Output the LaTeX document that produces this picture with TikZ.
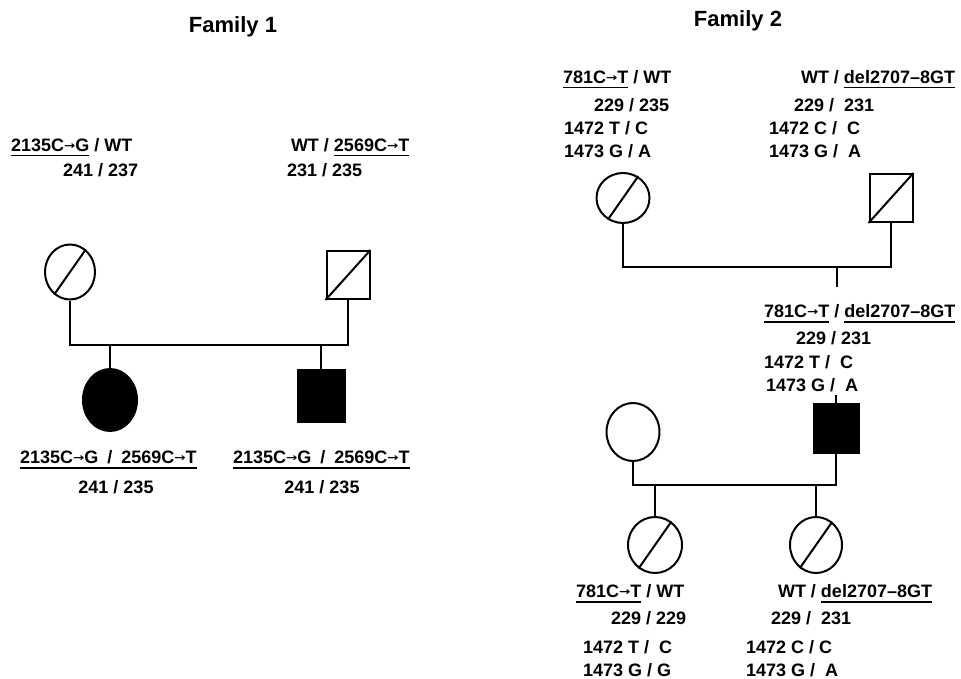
\documentclass[tikz,border=0pt]{standalone}
\usepackage{fontspec}
\setmainfont{Liberation Sans}
\newfontfamily\djv{DejaVu Sans}
\usepackage{graphicx}
\usetikzlibrary{shapes.geometric}
\newcommand\ar{\raisebox{2pt}{\scalebox{0.75}[0.6]{\djv\bfseries →}}}
\newsavebox\ulbox
\newcommand\ul[1]{\sbox\ulbox{#1}\rlap{\rule[-5pt]{\wd\ulbox}{1.3pt}}\usebox\ulbox}
\begin{document}
\begin{tikzpicture}[x=1pt,y=-1pt,line width=2pt,
  lab/.style={font=\fontsize{18}{18}\selectfont\bfseries, inner sep=0pt, anchor=base west},
  ttl/.style={font=\fontsize{22}{22}\selectfont\bfseries, inner sep=0pt, anchor=base},
  fem/.style={draw, ellipse, inner sep=0pt, minimum width=#1},
  mal/.style={draw, rectangle, inner sep=0pt},
  aff/.style={fill=black}]
\useasboundingbox (0,0) rectangle (961,679);
% titles
\node[ttl] (t1) at (233,33) {Family 1};
\node[ttl] (t2) at (738,27) {Family 2};
% ---------- Family 1 ----------
\node[lab] (l1a) at (10,151.5) {\ul{2135C\ar G} / WT};
\node[lab] (l1b) at (62,176.5) {241 / 237};
\node[lab] (l1c) at (290,151.5) {WT / \ul{2569C\ar T}};
\node[lab] (l1d) at (286,176.5) {231 / 235};
\node[fem=50pt, minimum height=55pt] (m1) at (70,272) {};
\draw (m1.235) -- (m1.55);
\node[mal, minimum width=43pt, minimum height=48pt] (f1) at (348,275) {};
\draw (f1.south west) -- (f1.north east);
\coordinate (j1) at (0,345);
\draw (m1.south) |- (f1.south |- j1) -- (f1.south);
\node[fem=54pt, minimum height=62pt, aff] (c1) at (110,400) {};
\node[mal, aff, minimum width=47pt, minimum height=52pt] (c2) at (321,396) {};
\draw (c1.north) -- (c1.north |- j1);
\draw (c2.north) -- (c2.north |- j1);
\node[lab] (l1e) at (19,463.5) {\ul{2135C\ar G\enspace/\enspace2569C\ar T}};
\node[lab, anchor=base] (l1f) at (116,493.5) {241 / 235};
\node[lab] (l1g) at (232,463.5) {\ul{2135C\ar G\enspace/\enspace2569C\ar T}};
\node[lab, anchor=base] (l1h) at (322,493.5) {241 / 235};
% ---------- Family 2 ----------
\node[lab] (a1) at (562,83.5) {\ul{781C\ar T} / WT};
\node[lab] (a2) at (593,111.5) {229 / 235};
\node[lab] (a3) at (563,134.5) {1472 T / C};
\node[lab] (a4) at (563,157.5) {1473 G / A};
\node[lab] (b1) at (800,83.5) {WT / \ul{del2707–8GT}};
\node[lab] (b2) at (793,111.5) {229 /\ \ 231};
\node[lab] (b3) at (768,134.5) {1472 C /\ \ C};
\node[lab] (b4) at (768,157.5) {1473 G /\ \ A};
\node[fem=53pt, minimum height=50pt] (m2) at (623,198) {};
\draw (m2.235) -- (m2.55);
\node[mal, minimum width=43pt, minimum height=48pt] (f2) at (891,198) {};
\draw (f2.south west) -- (f2.north east);
\coordinate (j2) at (0,267);
\draw (m2.south) |- (f2.south |- j2) -- (f2.south);
\coordinate (d2) at (837,287);
\draw (d2) -- (d2 |- j2);
\node[lab] (p1) at (763,317.5) {\ul{781C\ar T} / \ul{del2707–8GT}};
\node[lab] (p2) at (795,344.5) {229 / 231};
\node[lab] (p3) at (763,368.5) {1472 T /\ \ C};
\node[lab] (p4) at (765,391.5) {1473 G /\ \ A};
\node[fem=53pt, minimum height=58pt] (s3) at (633,432) {};
\node[mal, aff, minimum width=45pt, minimum height=49pt] (s2) at (836,428) {};
\coordinate (tk) at (836,395);
\draw (tk) -- (s2.north);
\coordinate (j3) at (0,485);
\draw (s3.south) |- (s2.south |- j3) -- (s2.south);
\node[fem=54pt, minimum height=56pt] (g1) at (655,545) {};
\draw (g1.235) -- (g1.55);
\node[fem=52pt, minimum height=56pt] (g2) at (816,545) {};
\draw (g2.235) -- (g2.55);
\draw (g1.north) -- (g1.north |- j3);
\draw (g2.north) -- (g2.north |- j3);
\node[lab] (q1) at (575,597.5) {\ul{781C\ar T} / WT};
\node[lab] (q2) at (610,624.5) {229 / 229};
\node[lab] (q3) at (582,653.5) {1472 T /\ \ C};
\node[lab] (q4) at (582,676) {1473 G / G};
\node[lab] (r1) at (777,597.5) {WT / \ul{del2707–8GT}};
\node[lab] (r2) at (770,624.5) {229 /\ \ 231};
\node[lab] (r3) at (745,653.5) {1472 C / C};
\node[lab] (r4) at (745,676) {1473 G /\ \ A};
\end{tikzpicture}
\end{document}
